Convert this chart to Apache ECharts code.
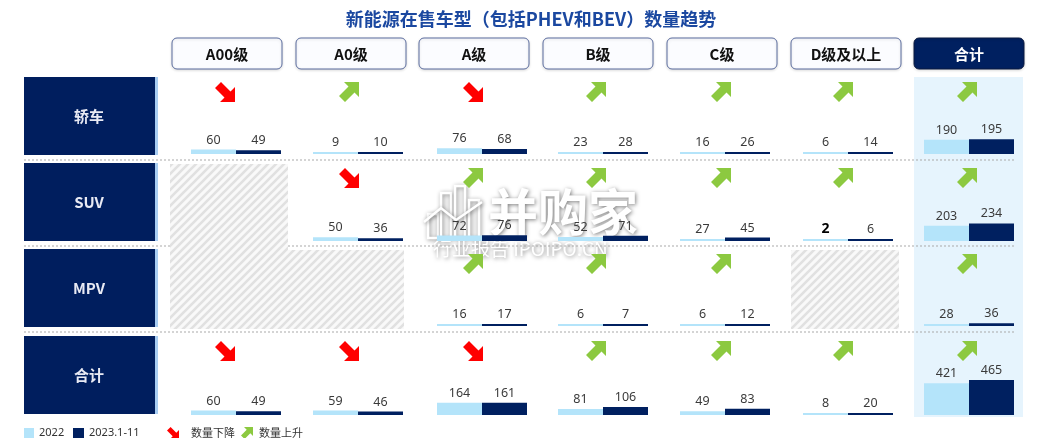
<!DOCTYPE html>
<html><head><meta charset="utf-8">
<script src="https://cdn.jsdelivr.net/npm/echarts@6/dist/echarts.min.js"></script>
<style>html,body{margin:0;padding:0;background:#fff}#c{width:1062px;height:438px}</style>
</head><body><div id="c"></div>
<script>
// ---- data ----
const categories = ['A00级','A0级','A级','B级','C级','D级及以上','合计'];
const rowLabels = ['轿车','SUV','MPV','合计'];
const sedan2022 = [60, 9, 76, 23, 16, 6, 190];
const sedan2023 = [49, 10, 68, 28, 26, 14, 195];
const suv2022 = [null, 50, 72, 52, 27, 2, 203];
const suv2023 = [null, 36, 76, 71, 45, 6, 234];
const mpv2022 = [null, null, 16, 6, 6, null, 28];
const mpv2023 = [null, null, 17, 7, 12, null, 36];
const total2022 = [60, 59, 164, 81, 49, 8, 421];
const total2023 = [49, 46, 161, 106, 83, 20, 465];
const seriesNames = ['2022', '2023.1-11'];
const legendTrend = ['数量下降', '数量上升'];
const title = '新能源在售车型（包括PHEV和BEV）数量趋势';

const rows2022 = [sedan2022, suv2022, mpv2022, total2022];
const rows2023 = [sedan2023, suv2023, mpv2023, total2023];

// ---- layout ----
const NAVY = '#002060', LIGHT = '#b4e4fa', GREEN = '#8cc940', RED = '#ff0000';
const headerLeft = [172, 296, 419, 543, 667, 791, 914];
const headerW = 110;
const barLeft = [191, 313, 437, 558, 680, 803, 924];
const barW = 90;
const arrowCx = [225, 349, 473, 596, 721, 843, 967];
const rowTop = [77, 163, 249, 336];
const rowH = 78;
const barBottom = [154, 241, 326, 415];
const sepY = [160, 246, 332];
const YMAX = 478, GH = 36;

// hatch pattern
const pc = document.createElement('canvas');
pc.width = 8; pc.height = 8;
const pctx = pc.getContext('2d');
pctx.fillStyle = '#f9f9f9'; pctx.fillRect(0,0,8,8);
pctx.strokeStyle = '#e1e1e1'; pctx.lineWidth = 2.6;
[[-4,4,4,-4],[0,8,8,0],[4,12,12,4]].forEach(l => { pctx.beginPath(); pctx.moveTo(l[0], l[1]); pctx.lineTo(l[2], l[3]); pctx.stroke(); });

const upPts = [[5,0],[20,0],[20,15],[15.5,10.5],[6,20],[0,14],[9.5,4.5]];
const downPts = upPts.map(p => [p[0], 20 - p[1]]);
function arrow(x, y, s, up) {
  const k = s / 20;
  return {type:'polygon', x:x, y:y, shape:{points:(up ? upPts : downPts).map(p => [p[0]*k, p[1]*k])},
    style:{fill: up ? GREEN : RED}, z:6};
}

const grids = [], xAxes = [], yAxes = [], series = [], graphic = [];

// background for total column
graphic.push({type:'rect', shape:{x:914, y:77, width:109, height:340}, style:{fill:'#e6f4fd'}, z:0});

// title
graphic.push({type:'text', x:531, y:19, style:{text:title, fill:'#1b48a0', font:'bold 18px "Noto Sans CJK SC"', textAlign:'center', textVerticalAlign:'middle'}, z:5});

// headers
categories.forEach((c, i) => {
  const isTotal = i === categories.length - 1;
  graphic.push({type:'rect', shape:{x:headerLeft[i], y:38, width:headerW, height:31, r:5},
    style:{fill: isTotal ? NAVY : '#fbfcff', stroke: isTotal ? '#0a1a40' : '#5b6c9e', lineWidth:1,
      shadowBlur:3, shadowColor:'rgba(0,0,0,0.15)', shadowOffsetY:1}, z:5});
  graphic.push({type:'text', x:headerLeft[i] + headerW/2, y:54, style:{text:c, fill: isTotal ? '#fff' : '#111',
    font:'bold 15px "Noto Sans CJK SC"', textAlign:'center', textVerticalAlign:'middle'}, z:6});
});

// row labels
rowLabels.forEach((r, j) => {
  graphic.push({type:'rect', shape:{x:155, y:rowTop[j], width:3, height:rowH}, style:{fill:'#a8cdf2'}, z:5});
  graphic.push({type:'rect', shape:{x:24, y:rowTop[j], width:131, height:rowH}, style:{fill:'#001e5e'}, z:5});
  graphic.push({type:'text', x:89, y:rowTop[j] + rowH/2, style:{text:r, fill:'#e8eaf4', font:'bold 15px "Noto Sans CJK SC"', textAlign:'center', textVerticalAlign:'middle'}, z:6});
});

// separators
sepY.forEach(y => {
  graphic.push({type:'line', shape:{x1:24, y1:y, x2:1015, y2:y}, style:{stroke:'#a9a9a9', lineWidth:1, lineDash:[2,2]}, z:3});
});

// cells
let gi = 0;
for (let j = 0; j < rowLabels.length; j++) {
  for (let i = 0; i < categories.length; i++) {
    const a = rows2022[j][i], b = rows2023[j][i];
    if (a == null || b == null) {
      const belowNull = j + 1 < rowLabels.length && rows2022[j+1][i] == null;
      const hx = i === 0 ? 170 : (i === 1 ? 288 : 791);
      const hw = i === 0 ? 118 : (i === 1 ? 116 : 108);
      graphic.push({type:'rect', shape:{x:hx, y:rowTop[j] + 1, width:hw, height: belowNull ? rowTop[j+1] - rowTop[j] + 1 : 79},
        style:{fill:{image:pc, repeat:'repeat'}}, z:4});
      continue;
    }
    grids.push({left:barLeft[i], top:barBottom[j] - GH, width:barW, height:GH, containLabel:false});
    xAxes.push({type:'category', gridIndex:gi, data:[categories[i]], show:false});
    yAxes.push({type:'value', gridIndex:gi, min:0, max:YMAX, show:false});
    const bold = (a < 5);
    [a, b].forEach((v, k) => {
      const isBold = k === 0 && bold;
      series.push({type:'bar', name:seriesNames[k], xAxisIndex:gi, yAxisIndex:gi, data:[v],
        barWidth:45, barGap:'0%', barMinHeight:2, silent:true, z:3,
        itemStyle:{color: k === 0 ? LIGHT : NAVY},
        label:{show:true, position:'top', distance:3, formatter:'{c}',
          color: isBold ? '#000' : '#3a3a3a', fontSize: isBold ? 14 : 12.5, fontWeight: isBold ? 'bold' : 'normal',
          fontFamily:'"Noto Sans", sans-serif'}});
    });
    gi++;
    graphic.push(arrow(arrowCx[i] - 10, rowTop[j] + 5, 20, b >= a));
  }
}

// legend
graphic.push({type:'rect', shape:{x:24, y:428, width:10, height:10}, style:{fill:LIGHT}, z:6});
graphic.push({type:'text', x:39, y:433, style:{text:seriesNames[0], fill:'#333', font:'11px "Noto Sans"', textVerticalAlign:'middle'}, z:6});
graphic.push({type:'rect', shape:{x:73, y:428, width:11, height:10}, style:{fill:NAVY}, z:6});
graphic.push({type:'text', x:89, y:433, style:{text:seriesNames[1], fill:'#333', font:'11px "Noto Sans"', textVerticalAlign:'middle'}, z:6});
graphic.push(arrow(167, 427, 12, false));
graphic.push({type:'text', x:191, y:433, style:{text:legendTrend[0], fill:'#333', font:'11px "Noto Sans CJK SC"', textVerticalAlign:'middle'}, z:6});
graphic.push(arrow(241, 427, 12, true));
graphic.push({type:'text', x:259, y:433, style:{text:legendTrend[1], fill:'#333', font:'11px "Noto Sans CJK SC"', textVerticalAlign:'middle'}, z:6});

// watermark (below the bars and their labels)
const wmShadow = {shadowBlur:4, shadowColor:'rgba(0,0,0,0.45)', shadowOffsetX:1, shadowOffsetY:1};
const wmTextShadow = {textShadowBlur:4, textShadowColor:'rgba(0,0,0,0.5)', textShadowOffsetX:1, textShadowOffsetY:1};
[[428,214,10,24],[441,193,10,45],[455,186,10,52],[469,200,10,38]].forEach(r => {
  graphic.push({type:'rect', shape:{x:r[0], y:r[1], width:r[2], height:r[3]}, style:Object.assign({fill:'rgba(255,255,255,0.15)', stroke:'#fff', lineWidth:2.5}, wmShadow), z:1});
});
graphic.push({type:'polyline', shape:{points:[[424,222],[441,208],[456,220],[482,202]]}, style:Object.assign({stroke:'#fff', lineWidth:2.5, fill:null}, wmShadow), z:1});
graphic.push({type:'text', x:488, y:212, style:Object.assign({text:'并购家', fill:'#fff', font:'bold 50px "Noto Sans CJK SC"', textVerticalAlign:'middle'}, wmTextShadow), z:1});
graphic.push({type:'text', x:433, y:249, style:Object.assign({text:'行业报告 IPOIPO.CN', fill:'#fff', font:'19px "Noto Sans CJK SC"', textVerticalAlign:'middle'}, wmTextShadow), z:1});

const chart = echarts.init(document.getElementById('c'), null, {renderer:'canvas'});
chart.setOption({animation:false, grid:grids, xAxis:xAxes, yAxis:yAxes, series:series, graphic:graphic});
</script></body></html>
